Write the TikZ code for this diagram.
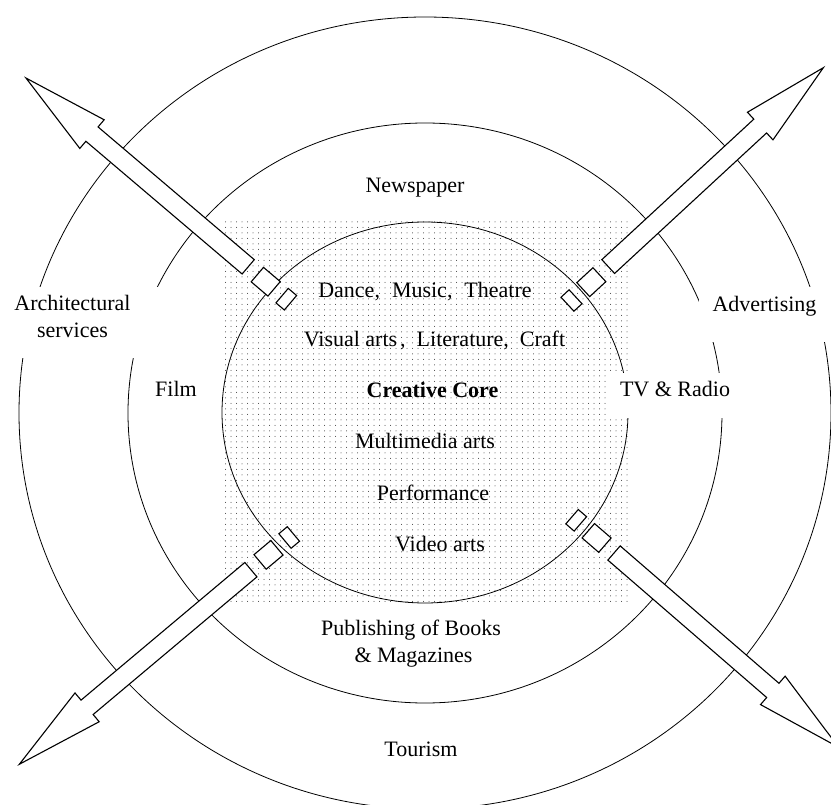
\documentclass[tikz,border=0pt]{standalone}
\usepackage{fontspec}
\setmainfont{Liberation Serif}
\usetikzlibrary{patterns.meta}
\tikzset{
  lbl/.style={font=\fontsize{22}{26}\selectfont, inner sep=0pt, anchor=base},
  ring/.style={line width=0.8pt},
  maskbox/.style={fill=white},
  arrowpart/.style={draw=black, fill=white, line width=1.1pt, line join=miter},
  dotfield/.style={pattern={Dots[distance=5.5pt, radius=0.5pt]}, pattern color=black!80},
}
\newcommand\creativearrow[4]{%
  \begin{scope}[shift={(#1)}, rotate=#2]
    \filldraw[arrowpart] (-5.5,-9.5) rectangle (5.5,9.5);
    \filldraw[arrowpart] (16,-9.5) rectangle (38,9.5);
    \filldraw[arrowpart] (50,-9.4) -- (#3,-9.4) -- (#3,-18.8) -- (#4,0)
      -- (#3,18.8) -- (#3,9.4) -- (50,9.4) -- cycle;
  \end{scope}}
\begin{document}
\begin{tikzpicture}[x=1pt, y=-1pt]
  \useasboundingbox (0,0) rectangle (831,805);
  % dotted core field
  \fill[dotfield] (222,222) rectangle (628,604);
  % rings
  \coordinate (ctr) at (425,413);
  \draw[ring] (ctr) ellipse [x radius=406pt, y radius=396pt];
  \draw[ring] (ctr) ellipse [x radius=297pt, y radius=290pt];
  \draw[ring] (425,412.5) ellipse [x radius=203pt, y radius=190.5pt];
  % white masks behind ring labels
  \fill[maskbox] (-20,287) rectangle (162,358);
  \fill[maskbox] (699,287) rectangle (840,342);
  \fill[maskbox] (606,373) rectangle (745,418);
  % arrows
  \coordinate (ulo) at (286.3,299.2);
  \coordinate (uro) at (571.5,300.5);
  \coordinate (llo) at (289.2,537.5);
  \coordinate (lro) at (576.2,520.3);
  \creativearrow{ulo}{139.65}{255}{341.6}
  \creativearrow{uro}{42.75}{257}{343}
  \creativearrow{llo}{220.04}{264}{352.5}
  \creativearrow{lro}{-40.86}{260}{347}
  % labels
  \node[lbl] (news) at (415,193) {Newspaper};
  \node[lbl] (dance) at (425,298) {Dance,\hspace{12pt}Music,\hspace{12pt}Theatre};
  \node[lbl] (visual) at (434.5,347) {Visual arts\hspace{3pt},\hspace{11pt}Literature,\hspace{11pt}Craft};
  \node[lbl] (core) at (432.5,398) {\textbf{Creative Core}};
  \node[lbl] (multi) at (425,449) {Multimedia arts};
  \node[lbl] (perf) at (433,500) {Performance};
  \node[lbl] (video) at (440,551) {Video arts};
  \node[lbl] (pub1) at (411,635) {Publishing of Books};
  \node[lbl] (pub2) at (413.5,662) {\& Magazines};
  \node[lbl] (tour) at (421,756) {Tourism};
  \node[lbl] (arch1) at (72.5,311) {Architectural};
  \node[lbl] (arch2) at (72.5,338) {services};
  \node[lbl] (film) at (176,397) {Film};
  \node[lbl] (adv) at (764.5,312) {Advertising};
  \node[lbl] (tv) at (675,397) {TV \& Radio};
\end{tikzpicture}
\end{document}
